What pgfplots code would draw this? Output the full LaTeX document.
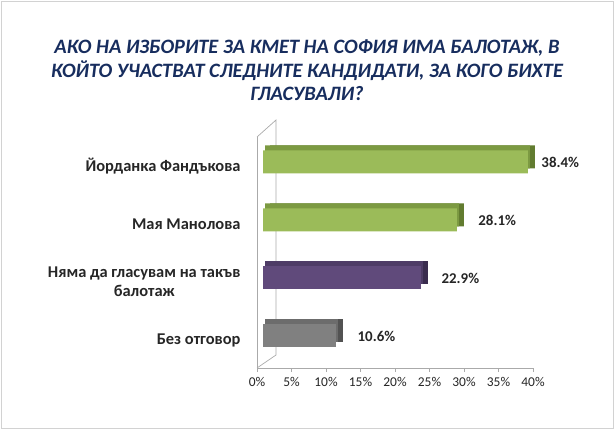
\documentclass[border=0pt]{standalone}
\usepackage{pgfplots}
\pgfplotsset{compat=1.18}
\usepackage{pgfplotstable}
\usepackage{fontspec}
\setmainfont{Carlito}
\definecolor{gfront}{RGB}{155,187,89}
\definecolor{gtop}{RGB}{124,154,66}
\definecolor{gside}{RGB}{98,124,48}
\definecolor{pfront}{RGB}{96,74,123}
\definecolor{ptop}{RGB}{78,60,102}
\definecolor{pside}{RGB}{58,44,78}
\definecolor{kfront}{RGB}{128,128,128}
\definecolor{ktop}{RGB}{108,108,108}
\definecolor{kside}{RGB}{82,82,82}
\definecolor{titleblue}{RGB}{23,45,94}
\definecolor{axgray}{RGB}{170,170,170}
\pgfplotstableread{
y x off
3 38.4 10
2 28.1 18
}\greendata
\pgfplotstableread{
y x off
1 22.9 17
}\purpledata
\pgfplotstableread{
y x off
0 10.6 18
}\graydata
\begin{document}
\begin{tikzpicture}[x=1bp,y=1bp]
\path[use as bounding box] (0,0) rectangle (614,429);
\draw[gray!35,line width=0.8bp] (1,1) rectangle (613,428);
\node[font=\fontsize{20.5}{23.5}\selectfont\bfseries\itshape, text=titleblue, align=center] at (307,358.5)
  {АКО НА ИЗБОРИТЕ ЗА КМЕТ НА СОФИЯ ИМА БАЛОТАЖ, В\\КОЙТО УЧАСТВАТ СЛЕДНИТЕ КАНДИДАТИ, ЗА КОГО БИХТЕ\\ГЛАСУВАЛИ?};
% back wall
\draw[axgray,line width=0.7bp] (257,292) -- (276,309) -- (276,74) -- (257,61);
\begin{axis}[
  at={(257bp,61bp)}, anchor=south west,
  scale only axis, width=276bp, height=231bp,
  xbar, bar width=23bp, bar shift=0pt,
  xmin=0, xmax=40, ymin=-0.552, ymax=3.431,
  axis x line*=bottom, axis y line*=left,
  axis line style={axgray, line width=0.7bp},
  tick style={axgray, line width=0.7bp},
  tick align=outside,
  major tick length=4bp,
  xtick={0,5,...,40},
  xticklabels={0\%,5\%,10\%,15\%,20\%,25\%,30\%,35\%,40\%},
  xticklabel style={font=\fontsize{13.5}{16}\selectfont, text=black!85, yshift=-2bp},
  ytick={0,1,2,3},
  yticklabels={Без отговор,Няма да гласувам на такъв\\балотаж,Мая Манолова,Йорданка Фандъкова},
  yticklabel style={font=\fontsize{16.5}{19}\selectfont\bfseries, text=black!85, align=center, yshift=-4bp, xshift=-9bp},
  major y tick style={draw=none},
  extra y ticks={-0.552,0.431,1.431,2.431,3.431},
  extra y tick labels={},
  extra y tick style={tick style={draw=axgray, line width=0.7bp}},
  nodes near coords={\pgfmathprintnumber[fixed,fixed zerofill,precision=1,assume math mode=true]{\pgfplotspointmeta}\%},
  point meta=explicit,
  every node near coord/.append style={font=\fontsize{15}{17}\selectfont\bfseries, text=black!85, anchor=west},
  clip=false,
]
% side faces (3D depth)
\addplot[fill=gside, draw=none, xshift=13bp, yshift=5bp, nodes near coords={}] table[x=x,y=y,meta=x] {\greendata};
\addplot[fill=pside, draw=none, xshift=13bp, yshift=5bp, nodes near coords={}] table[x=x,y=y,meta=x] {\purpledata};
\addplot[fill=kside, draw=none, xshift=13bp, yshift=5bp, nodes near coords={}] table[x=x,y=y,meta=x] {\graydata};
% top faces
\addplot[fill=gtop, draw=none, xshift=8bp, yshift=5bp, nodes near coords={}] table[x=x,y=y,meta=x] {\greendata};
\addplot[fill=ptop, draw=none, xshift=8bp, yshift=5bp, nodes near coords={}] table[x=x,y=y,meta=x] {\purpledata};
\addplot[fill=ktop, draw=none, xshift=8bp, yshift=5bp, nodes near coords={}] table[x=x,y=y,meta=x] {\graydata};
% front faces
\addplot[fill=gfront, draw=none, xshift=6bp, visualization depends on={\thisrow{off}\as\off}, every node near coord/.append style={xshift=\off bp}] table[x=x,y=y,meta=x] {\greendata};
\addplot[fill=pfront, draw=none, xshift=6bp, visualization depends on={\thisrow{off}\as\off}, every node near coord/.append style={xshift=\off bp}] table[x=x,y=y,meta=x] {\purpledata};
\addplot[fill=kfront, draw=none, xshift=6bp, visualization depends on={\thisrow{off}\as\off}, every node near coord/.append style={xshift=\off bp}] table[x=x,y=y,meta=x] {\graydata};
\end{axis}
\end{tikzpicture}
\end{document}
